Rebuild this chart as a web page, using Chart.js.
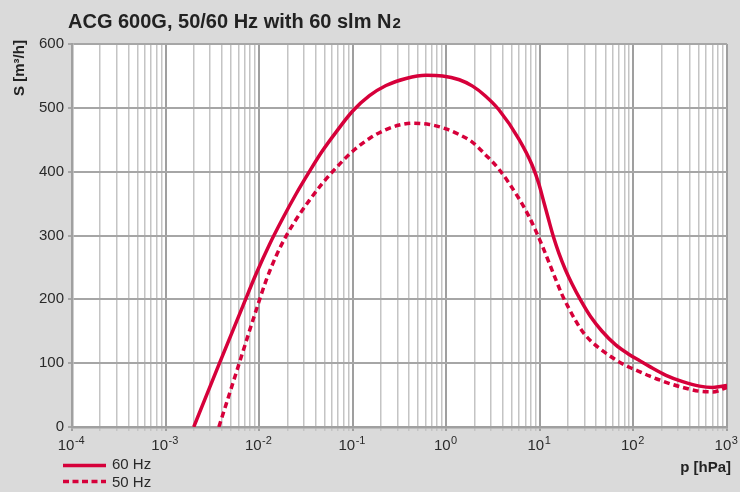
<!DOCTYPE html>
<html>
<head>
<meta charset="utf-8">
<script src="https://cdn.jsdelivr.net/npm/chart.js@4/dist/chart.umd.min.js"></script>
<style>
  html, body { margin: 0; padding: 0; background: #dadada; }
  #wrap { position: relative; width: 740px; height: 492px; }
  canvas { display: block; }
</style>
</head>
<body>
<div id="wrap"><canvas id="c" width="740" height="492"></canvas></div>
<script>
// ---- data ----
const titleText = 'ACG 600G, 50/60 Hz with 60 slm N';
const titleSub = '2';
const yTitle = 'S [m³/h]';
const xTitle = 'p [hPa]';
const seriesNames = ['60 Hz', '50 Hz'];

const decadeExponents = [-4, -3, -2, -1, 0, 1, 2, 3];
const yTickValues = [0, 100, 200, 300, 400, 500, 600];

const pressure60 = [0.002, 0.00377, 0.00668, 0.00929, 0.0129, 0.0179, 0.0248, 0.0344, 0.0477, 0.0664, 0.1, 0.151, 0.227, 0.371, 0.607, 0.914, 1.38, 1.91, 2.6, 3.65, 5.97, 8.28, 9.75, 11.0, 12.5, 14.1, 16.0, 18.8, 22.1, 27.2, 34.8, 46.2, 64.2, 89.1, 116, 148, 223, 336, 509, 706, 1000];
const speed60    = [0,     100,     189,     240,     286,    327,    365,    400,    433,    462,    495, 519,   535,   546,   551,   550,   544,  534,  519, 497,  451,  410,  381,  353,  323,  296,  272,  246,  224,  199,  173,  150,  129,  114,  104, 95,  81,  71,  64,  62,  65];

const pressure50 = [0.00371, 0.00616, 0.00929, 0.0119, 0.0152, 0.0194, 0.0248, 0.0344, 0.0477, 0.0664, 0.1, 0.151, 0.227, 0.315, 0.436, 0.659, 0.993, 1.38, 1.91, 2.6, 3.65, 5.97, 7.64, 9.0, 10.6, 12.5, 14.7, 17.3, 20.4, 24.0, 29.4, 36.1, 48.2, 66.8, 89.1, 111, 148, 223, 336, 509, 706, 1000];
const speed50    = [0,       101,     183,     230,    268,    299,    325,    355,    382,    406,    432, 452,   466,   473,   476,   474,   467,   458,  446,  427, 404,  358,  330,  308, 284,  258,  232,  207,  186,  167,  147,  133,  118,  104,  94,   88,  80,  70,  62,  56,  55,  62];

// ---- chart ----
const RED = '#d6003a';
const minorMultipliers = [1, 2, 3, 4, 5, 6, 7, 8, 9];
const gridValues = [];
decadeExponents.forEach((e, i) => {
  if (i === decadeExponents.length - 1) { gridValues.push(Math.pow(10, e)); return; }
  minorMultipliers.forEach(m => gridValues.push(m * Math.pow(10, e)));
});
const isDecade = v => Math.abs(Math.log10(v) - Math.round(Math.log10(v))) < 1e-9;

const toPoints = (xs, ys) => xs.map((x, i) => ({ x: x, y: ys[i] }));

const FONT = '"Liberation Sans", Arial, Helvetica, sans-serif';

const decorPlugin = {
  id: 'decor',
  beforeDraw(chart) {
    const { ctx, chartArea: a } = chart;
    ctx.save();
    ctx.fillStyle = '#ffffff';
    ctx.fillRect(a.left, a.top, a.right - a.left, a.bottom - a.top);
    ctx.restore();
  },
  afterDraw(chart) {
    const { ctx, scales } = chart;
    const xs = scales.x, ys = scales.y;
    ctx.save();
    ctx.fillStyle = '#2a2a2a';
    // y tick labels
    ctx.font = '15px ' + FONT;
    ctx.textAlign = 'right';
    ctx.textBaseline = 'middle';
    yTickValues.forEach(v => ctx.fillText(String(v), 64, ys.getPixelForValue(v)));
    // x tick labels 10^n
    decadeExponents.forEach(e => {
      const px = xs.getPixelForValue(Math.pow(10, e));
      const base = '10', sup = String(e);
      ctx.font = '15px ' + FONT;
      const wb = ctx.measureText(base).width;
      ctx.font = '11px ' + FONT;
      const ws = ctx.measureText(sup).width;
      const left = px - (wb + ws) / 2 - 1;
      ctx.textAlign = 'left';
      ctx.textBaseline = 'alphabetic';
      ctx.font = '15px ' + FONT;
      ctx.fillText(base, left, 450);
      ctx.font = '11px ' + FONT;
      ctx.fillText(sup, left + wb + 0.5, 444);
    });
    // title
    ctx.fillStyle = '#222';
    ctx.textAlign = 'left';
    ctx.font = 'bold 20px ' + FONT;
    ctx.fillText(titleText, 68, 28);
    const tw = ctx.measureText(titleText).width;
    ctx.font = 'bold 15px ' + FONT;
    ctx.fillText(titleSub, 68 + tw + 1, 28);
    // x title
    ctx.font = 'bold 15px ' + FONT;
    ctx.textAlign = 'right';
    ctx.fillText(xTitle, 731, 472);
    // y title
    ctx.save();
    ctx.translate(24, 68);
    ctx.rotate(-Math.PI / 2);
    ctx.textAlign = 'center';
    ctx.font = 'bold 15px ' + FONT;
    ctx.fillText(yTitle, 0, 0);
    ctx.restore();
    // legend
    ctx.strokeStyle = RED;
    ctx.lineWidth = 3.5;
    ctx.beginPath(); ctx.moveTo(63, 465.5); ctx.lineTo(106, 465.5); ctx.stroke();
    ctx.setLineDash([6, 3.5]);
    ctx.beginPath(); ctx.moveTo(63, 481.5); ctx.lineTo(106, 481.5); ctx.stroke();
    ctx.setLineDash([]);
    ctx.fillStyle = '#2a2a2a';
    ctx.textAlign = 'left';
    ctx.font = '15px ' + FONT;
    ctx.fillText(seriesNames[0], 112, 469);
    ctx.fillText(seriesNames[1], 112, 487);
    ctx.restore();
  }
};

new Chart(document.getElementById('c'), {
  type: 'line',
  data: {
    datasets: [
      {
        label: seriesNames[1],
        data: toPoints(pressure50, speed50),
        borderColor: RED,
        borderWidth: 3.5,
        borderDash: [6, 4],
        pointRadius: 0,
        cubicInterpolationMode: 'monotone',
        fill: false
      },
      {
        label: seriesNames[0],
        data: toPoints(pressure60, speed60),
        borderColor: RED,
        borderWidth: 3.5,
        pointRadius: 0,
        cubicInterpolationMode: 'monotone',
        fill: false
      }
    ]
  },
  options: {
    responsive: false,
    animation: false,
    devicePixelRatio: 1,
    layout: { padding: { left: 68, right: 13, top: 44, bottom: 61 } },
    plugins: { legend: { display: false }, tooltip: { enabled: false }, title: { display: false } },
    scales: {
      x: {
        type: 'logarithmic',
        min: 1e-4,
        max: 1e3,
        afterBuildTicks: axis => { axis.ticks = gridValues.map(v => ({ value: v, major: isDecade(v) })); },
        ticks: { display: false, autoSkip: false },
        grid: {
          drawTicks: true,
          tickLength: 4,
          color: c => (c.tick && isDecade(c.tick.value)) ? '#9f9f9f' : '#c4c4c4',
          lineWidth: c => (c.tick && isDecade(c.tick.value)) ? 2 : 1.5
        },
        border: { color: '#a0a0a0', width: 2.5 }
      },
      y: {
        type: 'linear',
        min: 0,
        max: 600,
        afterBuildTicks: axis => { axis.ticks = yTickValues.map(v => ({ value: v })); },
        ticks: { display: false },
        grid: { drawTicks: true, tickLength: 4, color: '#a6a6a6', lineWidth: 2 },
        border: { color: '#a0a0a0', width: 2.5 }
      }
    }
  },
  plugins: [decorPlugin]
});
</script>
</body>
</html>
